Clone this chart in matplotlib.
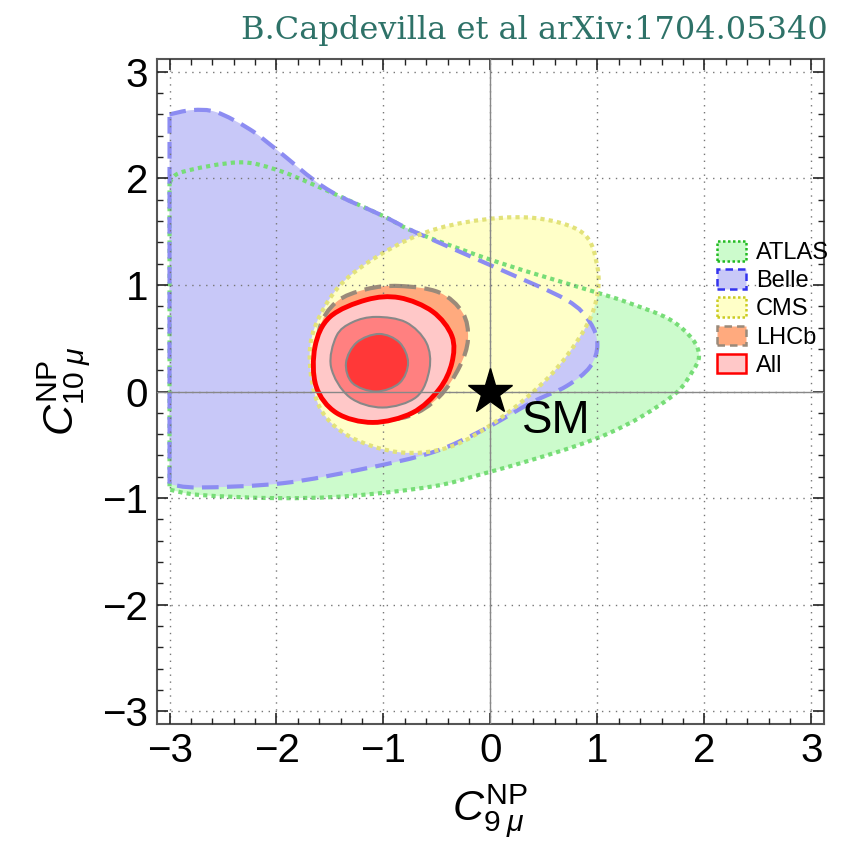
import matplotlib.pyplot as plt
import numpy as np
from matplotlib.patches import PathPatch, Patch
from matplotlib.path import Path
from matplotlib.ticker import MultipleLocator

plt.rcParams['font.family'] = ['Liberation Sans', 'DejaVu Sans']
plt.rcParams['mathtext.fontset'] = 'custom'
plt.rcParams['mathtext.rm'] = 'Liberation Sans'
plt.rcParams['mathtext.it'] = 'Liberation Sans:italic'

# contour outlines (C9, C10); ATLAS/Belle are open along C9 = -3
atlas_x = [-3.0, -2.88, -2.35, -2.0, -1.63, -1.01, -0.69, 0.08, 0.99, 1.27, 1.67, 1.89,
           1.95, 1.89, 1.74, 1.42, 1.11, 0.80, 0.39, -0.10, -0.54, -1.32, -2.0, -2.72, -3.0]
atlas_y = [1.96, 2.06, 2.15, 2.08, 1.93, 1.65, 1.49, 1.21, 0.93, 0.84, 0.68, 0.49,
           0.33, 0.19, -0.01, -0.23, -0.39, -0.51, -0.64, -0.78, -0.89, -0.98, -1.0, -0.97, -0.92]

belle_x = [-3.0, -2.79, -2.56, -2.25, -2.0, -1.53, -1.01, -0.69, 0.08, 0.71, 0.93, 1.0,
           0.93, 0.71, 0.39, -0.07, -0.54, -1.16, -1.94, -2.72, -3.0]
belle_y = [2.6, 2.64, 2.62, 2.46, 2.27, 1.90, 1.65, 1.49, 1.15, 0.86, 0.65, 0.44,
           0.23, 0.05, -0.10, -0.36, -0.57, -0.72, -0.86, -0.90, -0.87]

cms_x = [0.39, 0.86, 1.0, 0.99, 0.86, 0.55, 0.08, -0.38, -0.85, -1.32, -1.60, -1.69,
         -1.60, -1.32, -0.76, -0.22]
cms_y = [1.63, 1.49, 1.17, 0.86, 0.55, 0.14, -0.26, -0.52, -0.57, -0.42, -0.14, 0.33,
         0.70, 1.08, 1.43, 1.59]

lhcb_x = [-0.85, -0.48, -0.26, -0.21, -0.29, -0.48, -0.76, -1.10, -1.44, -1.60, -1.60,
          -1.44, -1.16]
lhcb_y = [0.99, 0.93, 0.74, 0.49, 0.23, -0.05, -0.23, -0.26, -0.17, 0.14, 0.58, 0.84, 0.96]

# global fit: 3, 2 and 1 sigma
all3_x = [-0.85, -0.54, -0.36, -0.36, -0.48, -0.73, -1.10, -1.44, -1.63, -1.64, -1.50, -1.16]
all3_y = [0.88, 0.75, 0.52, 0.27, 0.02, -0.20, -0.29, -0.20, 0.05, 0.42, 0.70, 0.86]
all2_x = [-1.07, -0.79, -0.60, -0.57, -0.69, -1.01, -1.32, -1.49, -1.44, -1.29]
all2_y = [0.70, 0.65, 0.46, 0.21, -0.05, -0.15, -0.05, 0.23, 0.52, 0.65]
all1_x = [-1.04, -0.85, -0.77, -0.85, -1.07, -1.29, -1.35, -1.25]
all1_y = [0.54, 0.46, 0.27, 0.08, 0.0, 0.08, 0.27, 0.46]

sm_point = (0.0, 0.0)
ticks = [-3, -2, -1, 0, 1, 2, 3]
tick_labels = ["\u22123", "\u22122", "\u22121", "0", "1", "2", "3"]


def smooth(x, y, closed=True):
    # Catmull-Rom through the read points, as cubic Bezier segments
    pts = np.column_stack([x, y])
    n = len(pts)
    if closed:
        P = np.vstack([pts[-1], pts, pts[0], pts[1]])
        nseg = n
    else:
        P = np.vstack([pts[0], pts, pts[-1]])
        nseg = n - 1
    verts = [pts[0]]
    codes = [Path.MOVETO]
    for i in range(nseg):
        p0, p1, p2, p3 = P[i], P[i + 1], P[i + 2], P[i + 3]
        verts += [p1 + (p2 - p0) / 6, p2 - (p3 - p1) / 6, p2]
        codes += [Path.CURVE4] * 3
    verts.append(pts[0])
    codes.append(Path.CLOSEPOLY)
    return Path(verts, codes)


fig = plt.figure(figsize=(8.47, 8.42), dpi=100)
ax = fig.add_axes([0.185, 0.140, 0.788, 0.790])

regions = [
    (smooth(atlas_x, atlas_y, False), "#ccfbcc", "#77dd77", (0, (1, 1))),
    (smooth(belle_x, belle_y, False), "#c8c8f8", "#8c8cf2", (0, (4, 2))),
    (smooth(cms_x, cms_y), "#ffffc8", "#e2e27a", (0, (1, 1))),
    (smooth(lhcb_x, lhcb_y), "#ffaa7e", "#9a8a7a", (0, (4, 2))),
]
for path, fc, ec, ls in regions:
    ax.add_patch(PathPatch(path, fc=fc, ec="none", zorder=1))
for path, fc, ec, ls in regions:
    ax.add_patch(PathPatch(path, fc="none", ec=ec, lw=3.0, ls=ls, zorder=2))

ax.add_patch(PathPatch(smooth(all3_x, all3_y), fc="#ffc8c8", ec="none", zorder=3))
ax.add_patch(PathPatch(smooth(all2_x, all2_y), fc="#ff8080", ec="#888888", lw=1.5, zorder=3))
ax.add_patch(PathPatch(smooth(all1_x, all1_y), fc="#ff3838", ec="#888888", lw=1.5, zorder=3))
ax.add_patch(PathPatch(smooth(all3_x, all3_y), fc="none", ec="#ff0000", lw=3.5, zorder=4))

ax.plot(*sm_point, marker="*", ms=34, color="black", zorder=6)
ax.text(0.62, -0.28, "SM", fontsize=33, ha="center", va="center", zorder=6)

ax.set_xlim(-3.12, 3.12)
ax.set_ylim(-3.12, 3.12)
ax.set_xticks(ticks)
ax.set_yticks(ticks)
ax.set_xticklabels(tick_labels)
ax.set_yticklabels(tick_labels)
ax.xaxis.set_minor_locator(MultipleLocator(0.2))
ax.yaxis.set_minor_locator(MultipleLocator(0.2))
ax.tick_params(which="both", direction="in", top=True, right=True, labelsize=29,
               color="#222222")
ax.tick_params(which="major", length=8, width=1.2, pad=6)
ax.tick_params(which="minor", length=4, width=1.0)
for sp in ax.spines.values():
    sp.set_color("#555555")
    sp.set_linewidth(1.5)

ax.grid(True, which="major", ls=(0, (1, 4)), color="#777777", lw=1.0, zorder=5)
ax.set_axisbelow(False)
ax.axhline(0, color="#888888", lw=1.0, zorder=5)
ax.axvline(0, color="#888888", lw=1.0, zorder=5)

ax.set_xlabel(r"$C^{\mathrm{NP}}_{\mathrm{9}\;\mu}$", fontsize=31, labelpad=9)
ax.set_ylabel(r"$C^{\mathrm{NP}}_{\mathrm{10}\;\mu}$", fontsize=31, labelpad=6)

handles = [
    Patch(fc="#ccfbcc", ec="#22bb22", ls=(0, (1, 1)), lw=1.8, label="ATLAS"),
    Patch(fc="#c8c8f8", ec="#3333ee", ls=(0, (3, 2)), lw=1.8, label="Belle"),
    Patch(fc="#ffffc8", ec="#cccc22", ls=(0, (1, 1)), lw=1.8, label="CMS"),
    Patch(fc="#ffaa7e", ec="#9a8a7a", ls=(0, (3, 2)), lw=1.8, label="LHCb"),
    Patch(fc="#ffc8c8", ec="#ff0000", lw=1.8, label="All"),
]
ax.legend(handles=handles, loc="upper left", bbox_to_anchor=(0.838, 0.722),
          bbox_transform=fig.transFigure, frameon=False, fontsize=17,
          handlelength=1.25, handleheight=0.9, handletextpad=0.4,
          labelspacing=0.22, borderaxespad=0, borderpad=0.3)

fig.text(0.977, 0.964, "B.Capdevilla et al arXiv:1704.05340", ha="right", va="center",
         fontsize=23, color="#2e7268", family="DejaVu Serif")

fig.savefig("out.png", dpi=100)
